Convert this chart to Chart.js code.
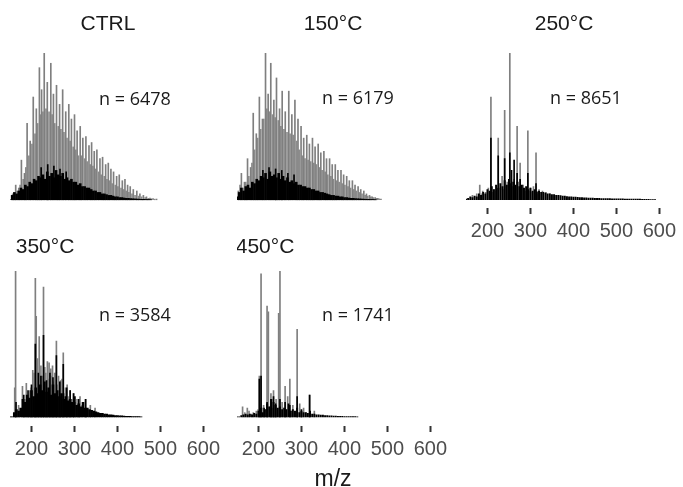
<!DOCTYPE html>
<html>
<head>
<meta charset="utf-8">
<script src="https://cdn.jsdelivr.net/npm/chart.js@4.4.1/dist/chart.umd.min.js"></script>
<style>
  body { margin: 0; background: #fff; }
  #wrap { position: relative; width: 683px; height: 487px; overflow: hidden; }
  canvas { position: absolute; }
</style>
</head>
<body>
<div id="wrap">
  <canvas id="ctrl" width="215" height="250" style="left:10px;top:0px"></canvas>
  <canvas id="t150" width="215" height="250" style="left:237px;top:0px"></canvas>
  <canvas id="t250" width="215" height="250" style="left:466px;top:0px"></canvas>
  <canvas id="t350" width="215" height="262" style="left:10px;top:225px"></canvas>
  <canvas id="t450" width="215" height="262" style="left:237px;top:225px"></canvas>
</div>
<script>
// x axis
const tickValues = [200, 300, 400, 500, 600];

// shared m/z grid for the dense black "grass" under each spectrum
const gridMz = [150,155,160,165,170,175,180,185,190,195,200,205,210,215,220,225,230,235,240,245,
  250,255,260,265,270,275,280,285,290,295,300,305,310,315,320,325,330,335,340,345,
  350,355,360,365,370,375,380,385,390,395,400,405,410,415,420,425,430,435,440,445,
  450,455,460,465,470,475,480,485,490,495,500,505,510,515,520,525,530,535,540,545,
  550,555,560,565,570,575,580,585,590];

// CTRL  (n = 6478), relative intensity %
const ctrlGrayMz = [156,163,170,176,183,189,196,203,210,217,222,228,235,243,249,256,263,270,277,284,
  290,297,303,310,316,323,330,336,342,348,355,361,368,374,380,386,393,399,406,412,
  418,424,431,439,446,454,461,469,476,484];
const ctrlGrayInt = [4,10,8,27,18,52,40,70,62,90,75,100,80,93,72,78,65,75,60,65,
  55,58,47,50,42,43,37,39,33,34,28,29,24,25,21,19,16,17,13,14,
  10,9,7,6,4,3,2,1.2,0.8,0.5];
const ctrlFillMz = [160,166,173,180,186,193,200,207,213,220,225,232,239,246,252,260,266,273,280,287,
  294,300,306,313,320,326,333,339,345,352,358,365,371,377,383,390,396,403,409,415,
  421,428,435,443,450,458,465,472,480];
const ctrlFillInt = [4,6,10,14,22,30,38,45,52,58,60,62,60,58,52,50,48,46,42,40,
  36,34,30,30,28,26,24,23,21,19,17,16,14,13,11,10,9,8,7,6,
  5,4,3,2.5,2,1.5,1,0.7,0.4];
const ctrlBlackMz = [221,236,250,264,278];
const ctrlBlackInt = [22,24,23,21,19];
const ctrlGrass = [0,3,5,4,6,8,7,10,9,12,11,14,13,16,15,17,14,19,16,18,
  15,20,17,16,18,14,15,13,14,12,12,10,11,9,9,8,8,7,6,6,
  5,5,4,4,3.5,3,3,2.5,2,2,1.5,1.5,1.2,1,1,0.8,0.7,0.6,0.5,0.4,
  0.3,0.3,0.2,0.2,0.1];

// 150°C (n = 6179)
const t150GrayMz = [153,157,160,167,174,181,187,194,201,208,215,221,227,234,240,247,253,260,268,275,
  282,289,296,302,309,315,322,328,335,341,348,354,361,367,374,380,387,393,400,406,
  413,419,426,432,439,445,452,458,465,471,478];
const t150GrayInt = [6,10,18,12,28,22,59,45,70,55,100,72,93,68,83,62,74,60,74,58,
  68,55,50,42,44,38,42,36,38,32,33,28,28,24,24,20,20,17,16,13,
  13,10,9,7,6,4,3,2,1.5,1,0.5];
const t150FillMz = [164,170,177,184,190,197,204,211,218,224,231,237,244,250,257,264,271,278,286,292,
  299,305,312,318,325,331,338,344,351,357,364,370,377,383,390,396,403,409,416,422,
  429,435,442,448,455,461,468,474];
const t150FillInt = [8,12,16,25,34,42,48,55,62,60,58,56,54,50,48,46,45,44,40,34,
  30,28,27,26,25,24,22,20,19,17,16,14,13,12,11,10,9,8,7,6,
  5,4,3,2.5,2,1.5,1,0.6];
const t150BlackMz = [209,223,238,252,266,280];
const t150BlackInt = [20,22,21,20,18,17];
const t150Grass = [2,5,8,6,9,10,8,12,11,14,13,16,15,18,14,19,16,17,15,18,
  14,16,13,15,12,13,11,12,10,10,9,9,8,8,7,7,6,6,5,5,
  4.5,4,3.5,3,3,2.5,2.5,2,2,1.5,1.5,1.2,1,1,0.8,0.7,0.6,0.5,0.4,0.3,
  0.3,0.2,0.2,0.1];

// 250°C (n = 8651)
const t250GrayMz = [165,175,182,189,196,202,208,215,225,234,240,246,252,258,262,269,276,283,294,300,
  307,313,320,328,336,345];
const t250GrayInt = [3,4,10,6,5,8,70,7,42,16,61,12,100,9,14,50,25,10,47,8,
  9,32,7,6,5,4];
const t250FillMz = [186,212,220,230,237,244,249,265,272,280,288,298,304,317];
const t250FillInt = [4,5,6,8,7,9,10,8,9,7,6,6,5,4];
const t250BlackMz = [208,225,240,252,256,262,269,276,294,313];
const t250BlackInt = [42,30,28,32,20,27,18,14,18,11];
const t250Grass = [0.5,1,2,1.5,2.5,2,4,3,5,4,7,6,9,7,10,8,11,9,13,10,
  14,11,12,10,12,9,10,8,9,7,8,6,7,5.5,6,5,5,4.5,4,4,
  3.5,3.5,3,3,2.8,2.5,2.5,2.2,2,2,1.8,1.8,1.6,1.5,1.5,1.4,1.3,1.2,1.2,1.1,
  1,1,1,0.9,0.9,0.8,0.8,0.8,0.7,0.7,0.7,0.6,0.6,0.6,0.5,0.5,0.5,0.5,0.4,0.4,
  0.4,0.4,0.3,0.3,0.3,0.3,0.2,0.2,0.2];

// 350°C (n = 3584)
const t350GrayMz = [161,163,170,179,188,196,203,209,211,214,218,222,228,233,237,241,245,249,254,258,
  263,268,274,279,283,290,298,306,313,326,337,348];
const t350GrayInt = [20,100,8,21,23,18,32,95,69,40,55,35,89,30,38,37,33,35,30,52,
  28,25,44,20,22,18,16,12,14,12,8,6];
const t350FillMz = [185,199,206,225,231,239,247,252,256,261,266,271,277,286,294,302,318];
const t350FillInt = [12,20,30,28,34,26,28,24,30,22,20,26,16,14,12,10,8];
const t350BlackMz = [164,182,192,200,209,216,222,228,235,243,250,258,266,274,282,290,298,310,326];
const t350BlackInt = [10,15,18,22,50,30,28,56,25,30,27,42,24,36,20,18,16,12,12];
const t350Grass = [0,0,3,5,4,6,12,10,15,13,18,14,20,16,22,18,24,17,20,15,
  22,16,18,14,16,12,14,11,12,10,14,8,9,7,10,6,6,5,4.5,4,
  3.5,3,2.5,2.5,2,2,1.5,1.5,1.2,1,1,0.8,0.7,0.6,0.5,0.4,0.4,0.3,0.3,0.2,
  0.2,0.1];

// 450°C (n = 1741)
const t450GrayMz = [163,174,178,188,195,202,206,212,220,223,229,235,241,247,250,255,262,268,273,280,
  290,296,305,319,330];
const t450GrayInt = [7,6,4,3,4,28,98,8,76,72,16,18,12,71,100,10,21,14,26,8,
  60,9,6,15,4];
const t450FillMz = [168,184,199,209,216,226,232,238,244,258,265,277,285,300,311];
const t450FillInt = [3,2,5,6,5,7,6,8,5,6,5,4,3,3,3];
const t450BlackMz = [202,206,213,220,229,235,240,250,262,273,290,300,319];
const t450BlackInt = [26,28,6,10,12,14,9,12,10,8,14,5,15];
const t450Grass = [0,0,1,1.5,2,1.5,2,1.5,2.5,2,4,6,3,5,9,7,12,10,8,6,
  7,5,6,5,9,4,5,4,6,3,4,3,3,2.5,4,2,2,1.5,1.5,1.2,
  1.2,1,1,0.8,0.8,0.6,0.6,0.5,0.4,0.4,0.3,0.3,0.3,0.2,0.2,0.2,0.1];

function pairs(mz, vals) {
  return vals.map((v, i) => ({ x: mz[i], y: v }));
}

const panelText = {
  id: 'panelText',
  afterDraw(chart, args, opts) {
    const ctx = chart.ctx;
    ctx.save();
    ctx.fillStyle = '#1a1a1a';
    ctx.textBaseline = 'alphabetic';
    ctx.textAlign = 'center';
    ctx.font = '21px "Liberation Sans", Arial, sans-serif';
    ctx.fillText(opts.title, opts.titleX, opts.titleY);
    ctx.textAlign = 'left';
    ctx.font = '18px "Open Sans", sans-serif';
    ctx.fillText(opts.note, opts.noteX, opts.noteY);
    if (opts.axisTitle) {
      ctx.textAlign = 'center';
      ctx.font = '23px "Liberation Sans", Arial, sans-serif';
      ctx.fillText(opts.axisTitle, opts.axisX, opts.axisY);
    }
    ctx.restore();
  }
};

const rows = {
  top: { padTop: 53, axisH: 42, yMin: -5.6 },
  bottom: { padTop: 46, axisH: 61, yMin: -6.2 }
};

function drawSpectrum(id, row, showAxis, gray, fill, black, grass, grassWidth, text) {
  const r = rows[row];
  return new Chart(document.getElementById(id), {
    type: 'bar',
    data: {
      datasets: [
        { data: pairs(black[0], black[1]), backgroundColor: '#000', barThickness: 1, order: 0 },
        { data: pairs(gridMz, grass), backgroundColor: '#000', barThickness: grassWidth, order: 1 },
        { data: pairs(gray[0], gray[1]), backgroundColor: '#7f7f7f', barThickness: 1, order: 2 },
        { data: pairs(fill[0], fill[1]), backgroundColor: '#8c8c8c', barThickness: 1, order: 3 }
      ]
    },
    options: {
      responsive: false,
      animation: false,
      devicePixelRatio: 1,
      layout: { padding: { top: r.padTop, left: 0, right: 0, bottom: 0 } },
      datasets: { bar: { grouped: false, borderWidth: 0 } },
      scales: {
        x: {
          type: 'linear',
          min: 150,
          max: 640,
          offset: false,
          afterBuildTicks: s => { s.ticks = tickValues.map(v => ({ value: v })); },
          afterFit: s => { s.height = r.axisH; },
          border: { display: false },
          grid: { display: showAxis, offset: false, drawOnChartArea: false, drawTicks: true,
                  tickLength: 6, tickWidth: 2, tickColor: '#333' },
          ticks: { display: showAxis, color: '#4d4d4d', padding: 5, maxRotation: 0, autoSkip: false,
                   font: { family: '"Liberation Sans", Arial, sans-serif', size: 20 } }
        },
        y: { display: false, min: r.yMin, max: 100 }
      },
      plugins: {
        legend: { display: false },
        tooltip: { enabled: false },
        panelText: text
      }
    },
    plugins: [panelText]
  });
}

drawSpectrum('ctrl', 'top', false, [ctrlGrayMz, ctrlGrayInt], [ctrlFillMz, ctrlFillInt],
  [ctrlBlackMz, ctrlBlackInt], ctrlGrass, 2,
  { title: 'CTRL', titleX: 98, titleY: 30, note: 'n = 6478', noteX: 89, noteY: 105 });
drawSpectrum('t150', 'top', false, [t150GrayMz, t150GrayInt], [t150FillMz, t150FillInt],
  [t150BlackMz, t150BlackInt], t150Grass, 2,
  { title: '150°C', titleX: 96, titleY: 30, note: 'n = 6179', noteX: 85, noteY: 104 });
drawSpectrum('t250', 'top', true, [t250GrayMz, t250GrayInt], [t250FillMz, t250FillInt],
  [t250BlackMz, t250BlackInt], t250Grass, 1.3,
  { title: '250°C', titleX: 98, titleY: 30, note: 'n = 8651', noteX: 84, noteY: 104 });
drawSpectrum('t350', 'bottom', true, [t350GrayMz, t350GrayInt], [t350FillMz, t350FillInt],
  [t350BlackMz, t350BlackInt], t350Grass, 2,
  { title: '350°C', titleX: 35, titleY: 28, note: 'n = 3584', noteX: 89, noteY: 96 });
drawSpectrum('t450', 'bottom', true, [t450GrayMz, t450GrayInt], [t450FillMz, t450FillInt],
  [t450BlackMz, t450BlackInt], t450Grass, 1.3,
  { title: '450°C', titleX: 28, titleY: 28, note: 'n = 1741', noteX: 85, noteY: 96,
    axisTitle: 'm/z', axisX: 96, axisY: 261 });
</script>
</body>
</html>
